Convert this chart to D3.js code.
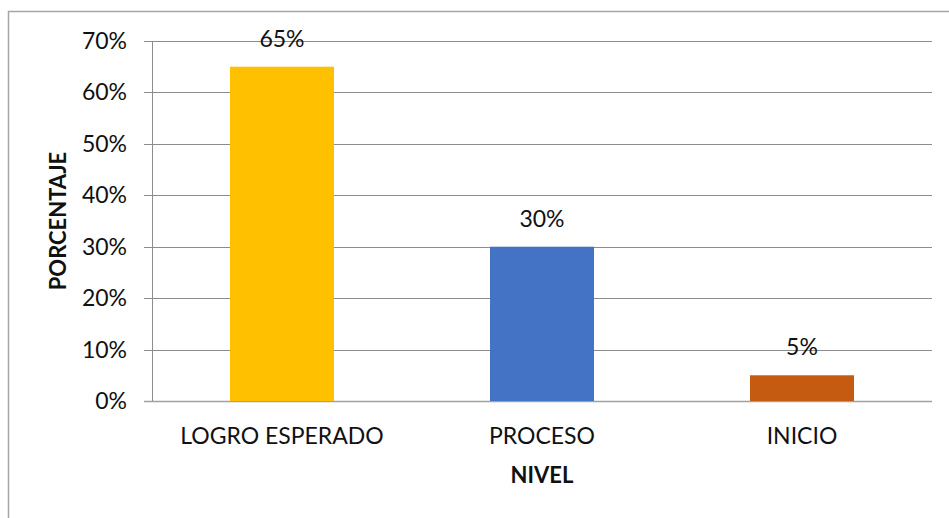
<!DOCTYPE html>
<html>
<head>
<meta charset="utf-8">
<script src="https://cdn.jsdelivr.net/npm/d3@7"></script>
<style>
body{margin:0;background:#fff;}
svg{display:block;font-family:Lato, "Open Sans", sans-serif;}
</style>
</head>
<body>
<svg></svg>
<script>
const width = 949;
const height = 518;

const categories = ['LOGRO ESPERADO', 'PROCESO', 'INICIO'];
const values = [0.65, 0.30, 0.05];
const colors = ['#FFC000', '#4472C4', '#C55A11'];
const yTicks = [0, 0.1, 0.2, 0.3, 0.4, 0.5, 0.6, 0.7];

const margin = {top: 41, left: 152, right: 17, bottom: 117};

var svg = d3.select('svg').attr('width', width).attr('height', height);

// outer frame (only top and left visible in the picture)
svg.append('path')
	.attr('d', 'M8.5,' + height + 'V11.5H' + width)
	.attr('fill', 'none')
	.attr('stroke', '#a6a6a6')
	.attr('stroke-width', 1.5);

var xScale = d3.scaleBand()
	.domain(categories)
	.range([margin.left, width - margin.right])
	.paddingInner(0.6)
	.paddingOuter(0.3);

var yScale = d3.scaleLinear()
	.domain([0, 0.7])
	.range([height - margin.bottom, margin.top]);

// gridlines
svg.append('g')
	.selectAll('line')
	.data(yTicks)
	.enter().append('line')
	.attr('x1', margin.left - 8).attr('x2', width - margin.right)
	.attr('y1', d => Math.round(yScale(d)) + 0.5).attr('y2', d => Math.round(yScale(d)) + 0.5)
	.attr('stroke', d => d === 0 ? '#a0a0a0' : '#8c8c8c')
	.attr('stroke-width', d => d === 0 ? 1.5 : 1);

// y axis line
svg.append('line')
	.attr('x1', margin.left + 0.5).attr('x2', margin.left + 0.5)
	.attr('y1', yScale(0.7)).attr('y2', yScale(0))
	.attr('stroke', '#8c8c8c');

// y tick labels
svg.append('g')
	.selectAll('text')
	.data(yTicks)
	.enter().append('text')
	.attr('x', 127)
	.attr('y', d => yScale(d) + 8)
	.attr('text-anchor', 'end')
	.attr('font-size', 23)
	.attr('fill', '#111')
	.text(d3.format('.0%'));

// bars
svg.append('g')
	.selectAll('rect')
	.data(values)
	.enter().append('rect')
	.attr('x', (d, i) => xScale(categories[i]))
	.attr('width', xScale.bandwidth())
	.attr('y', d => yScale(d))
	.attr('height', d => yScale(0) - yScale(d))
	.attr('fill', (d, i) => colors[i]);

// value labels
svg.append('g')
	.selectAll('text')
	.data(values)
	.enter().append('text')
	.attr('x', (d, i) => xScale(categories[i]) + xScale.bandwidth() / 2)
	.attr('y', d => yScale(d) - 20)
	.attr('text-anchor', 'middle')
	.attr('font-size', 23)
	.attr('fill', '#111')
	.text(d3.format('.0%'));

// category labels
svg.append('g')
	.selectAll('text')
	.data(categories)
	.enter().append('text')
	.attr('x', d => xScale(d) + xScale.bandwidth() / 2)
	.attr('y', 444)
	.attr('text-anchor', 'middle')
	.attr('font-size', 23)
	.attr('fill', '#111')
	.text(d => d);

// axis titles
svg.append('text')
	.attr('x', (margin.left + width - margin.right) / 2)
	.attr('y', 483)
	.attr('text-anchor', 'middle')
	.attr('font-size', 22)
	.attr('font-weight', 'bold')
	.attr('fill', '#111')
	.text('NIVEL');

svg.append('text')
	.attr('transform', 'translate(66,' + (yScale(0.35)) + ') rotate(-90)')
	.attr('text-anchor', 'middle')
	.attr('font-size', 22)
	.attr('font-weight', 'bold')
	.attr('fill', '#111')
	.text('PORCENTAJE');
</script>
</body>
</html>
